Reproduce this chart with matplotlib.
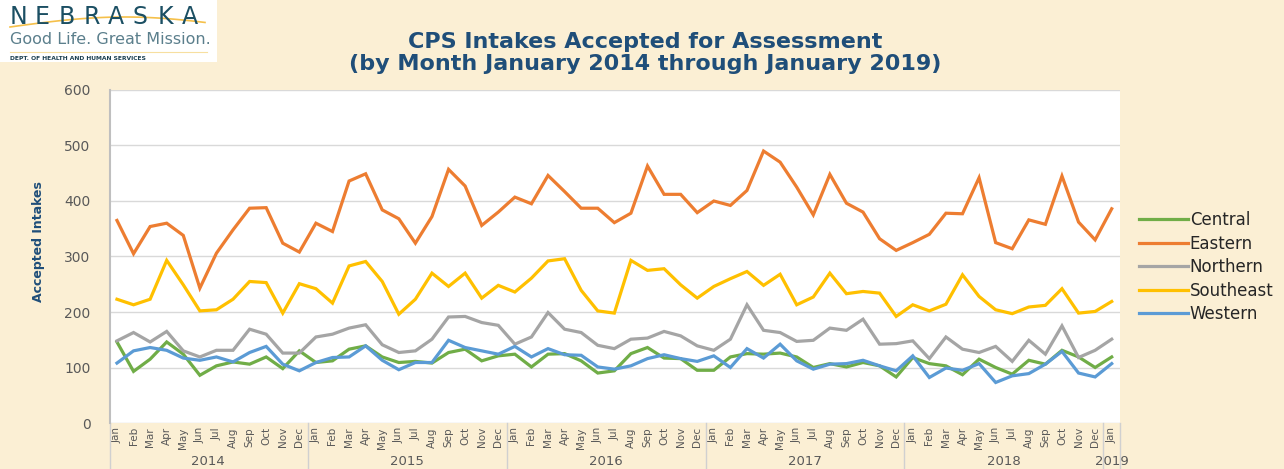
import matplotlib
matplotlib.use("Agg")
import matplotlib.pyplot as plt
from matplotlib.lines import Line2D
from matplotlib.patches import Rectangle
import numpy as np

months = ["Jan", "Feb", "Mar", "Apr", "May", "Jun", "Jul", "Aug", "Sep", "Oct", "Nov", "Dec"]
tick_labels = (months * 5) + ["Jan"]
years = ["2014", "2015", "2016", "2017", "2018", "2019"]

central = [146, 93, 115, 146, 124, 86, 103, 110, 106, 119, 98, 130,
           109, 112, 133, 139, 119, 109, 111, 108, 127, 133, 112, 121,
           124, 101, 124, 125, 112, 90, 94, 125, 136, 117, 116, 95,
           95, 119, 125, 124, 126, 119, 100, 107, 101, 109, 103, 83,
           118, 107, 103, 87, 115, 100, 88, 113, 106, 131, 119, 100,
           119]
eastern = [365, 305, 354, 360, 338, 243, 306, 348, 387, 388, 324, 308,
           360, 345, 436, 449, 384, 368, 324, 372, 457, 427, 356, 380,
           407, 395, 446, 417, 387, 387, 361, 378, 463, 412, 412, 379,
           400, 392, 419, 490, 470, 425, 375, 448, 396, 380, 332, 311,
           325, 340, 378, 377, 442, 325, 314, 366, 358, 445, 362, 330,
           386]
northern = [148, 163, 146, 165, 130, 119, 131, 131, 169, 160, 126, 126,
            155, 160, 171, 177, 141, 127, 130, 151, 191, 192, 181, 176,
            142, 155, 199, 169, 163, 140, 134, 151, 153, 165, 157, 139,
            131, 151, 213, 167, 163, 147, 149, 171, 167, 187, 142, 143,
            148, 116, 155, 133, 127, 138, 111, 149, 124, 175, 118, 131,
            151]
southeast = [223, 213, 223, 293, 249, 202, 204, 223, 255, 253, 198, 251,
             242, 216, 283, 291, 255, 196, 223, 270, 246, 270, 225, 248,
             236, 261, 292, 296, 239, 202, 198, 293, 275, 278, 249, 225,
             246, 260, 273, 248, 268, 213, 227, 270, 233, 237, 234, 192,
             213, 202, 214, 267, 228, 204, 197, 209, 212, 242, 198, 201,
             219]
western = [108, 130, 136, 131, 117, 113, 119, 110, 127, 138, 106, 94,
           109, 118, 119, 139, 113, 96, 109, 109, 149, 136, 130, 124,
           138, 119, 134, 123, 122, 101, 97, 103, 116, 123, 116, 111,
           121, 100, 134, 117, 142, 112, 97, 106, 107, 113, 103, 94,
           121, 82, 99, 95, 107, 73, 85, 89, 106, 129, 90, 83,
           107]

series_names = ["Central", "Eastern", "Northern", "Southeast", "Western"]
series_values = [central, eastern, northern, southeast, western]
series_colors = ["#70AD47", "#ED7D31", "#A5A5A5", "#FFC000", "#5B9BD5"]

W, H = 1284, 469
fig = plt.figure(figsize=(W / 100, H / 100), dpi=100)
fig.patch.set_facecolor("#FBEFD4")

L, R, T, B = 110, 1120, 90, 423
ax = fig.add_axes([L / W, 1 - B / H, (R - L) / W, (B - T) / H])
ax.set_facecolor("white")

x = np.arange(len(tick_labels))
for name, vals, col in zip(series_names, series_values, series_colors):
    ax.plot(x, vals, color=col, lw=2.3, label=name, solid_joinstyle="miter")

ax.set_ylim(0, 600)
ax.set_xlim(-0.42, 60.5)
ax.set_yticks(range(0, 601, 100))
ax.yaxis.grid(True, color="#D9D9D9", lw=1)
ax.set_axisbelow(True)
for s in ["top", "right", "bottom"]:
    ax.spines[s].set_visible(False)
ax.spines["left"].set_color("#BFBFBF")
ax.spines["left"].set_linewidth(1.5)
ax.tick_params(axis="y", length=0, pad=14, labelsize=10, labelcolor="#595959")
ax.set_xticks(x)
ax.set_xticklabels(tick_labels, rotation=90, fontsize=7.5, color="#595959",
                   va="top", ha="center")
ax.tick_params(axis="x", length=0, pad=3)

ax.set_ylabel("Accepted Intakes", fontsize=9, fontweight="bold", color="#1F4E79")
ax.yaxis.set_label_coords(-0.064, 0.544)

# year labels and separators
tr = ax.get_xaxis_transform()
for i, yr in enumerate(years):
    if i < 5:
        cx = i * 12 + 5.5
    else:
        cx = 60
    ax.text(cx, -0.115, yr, transform=tr, ha="center", va="center",
            fontsize=9.5, color="#595959", clip_on=False)
for bx in [-0.42, 11.5, 23.5, 35.5, 47.5, 59.5, 60.5]:
    ax.add_line(Line2D([bx, bx], [0, -0.2], transform=tr, color="#D0D0D0",
                       lw=1, clip_on=False))

# title
fig.text(645 / W, 1 - 42 / H, "CPS Intakes Accepted for Assessment",
         ha="center", va="center", fontsize=16, fontweight="bold", color="#1F4E79")
fig.text(645 / W, 1 - 64 / H, "(by Month January 2014 through January 2019)",
         ha="center", va="center", fontsize=16, fontweight="bold", color="#1F4E79")

# legend
leg = fig.legend(loc="center left", bbox_to_anchor=(1131 / W, 1 - 267 / H),
                 frameon=False, fontsize=12, handlelength=2.9, handletextpad=0.12,
                 labelspacing=0.33, borderpad=0)
for t in leg.get_texts():
    t.set_color("#262626")

# logo
fig.add_artist(Rectangle((0, 1 - 62 / H), 217 / W, 62 / H, transform=fig.transFigure,
                         facecolor="white", edgecolor="none"))
for i, ch in enumerate("NEBRASKA"):
    fig.text((18 + i * 24.5) / W, 1 - 17 / H, ch, ha="center", va="center",
             fontsize=17, color="#1B4F63", family="DejaVu Sans")
tt = np.linspace(0, 1, 50)
fig.add_artist(Line2D((10 + 195 * tt) / W, 1 - (27 - 10 * np.sin(np.pi * tt * 0.85)) / H,
                      transform=fig.transFigure, color="#F5C04A", lw=1.2))
fig.text(10 / W, 1 - 40 / H, "Good Life. Great Mission.", ha="left", va="center",
         fontsize=11.5, color="#5B7F8C")
fig.add_artist(Line2D([10 / W, 207 / W], [1 - 52 / H, 1 - 52 / H],
                      transform=fig.transFigure, color="#F7DFA0", lw=0.8))
fig.text(10 / W, 1 - 58 / H, "DEPT. OF HEALTH AND HUMAN SERVICES", ha="left",
         va="center", fontsize=4.3, fontweight="bold", color="#1B3F50")

fig.savefig("out.png", dpi=100, facecolor=fig.get_facecolor())
